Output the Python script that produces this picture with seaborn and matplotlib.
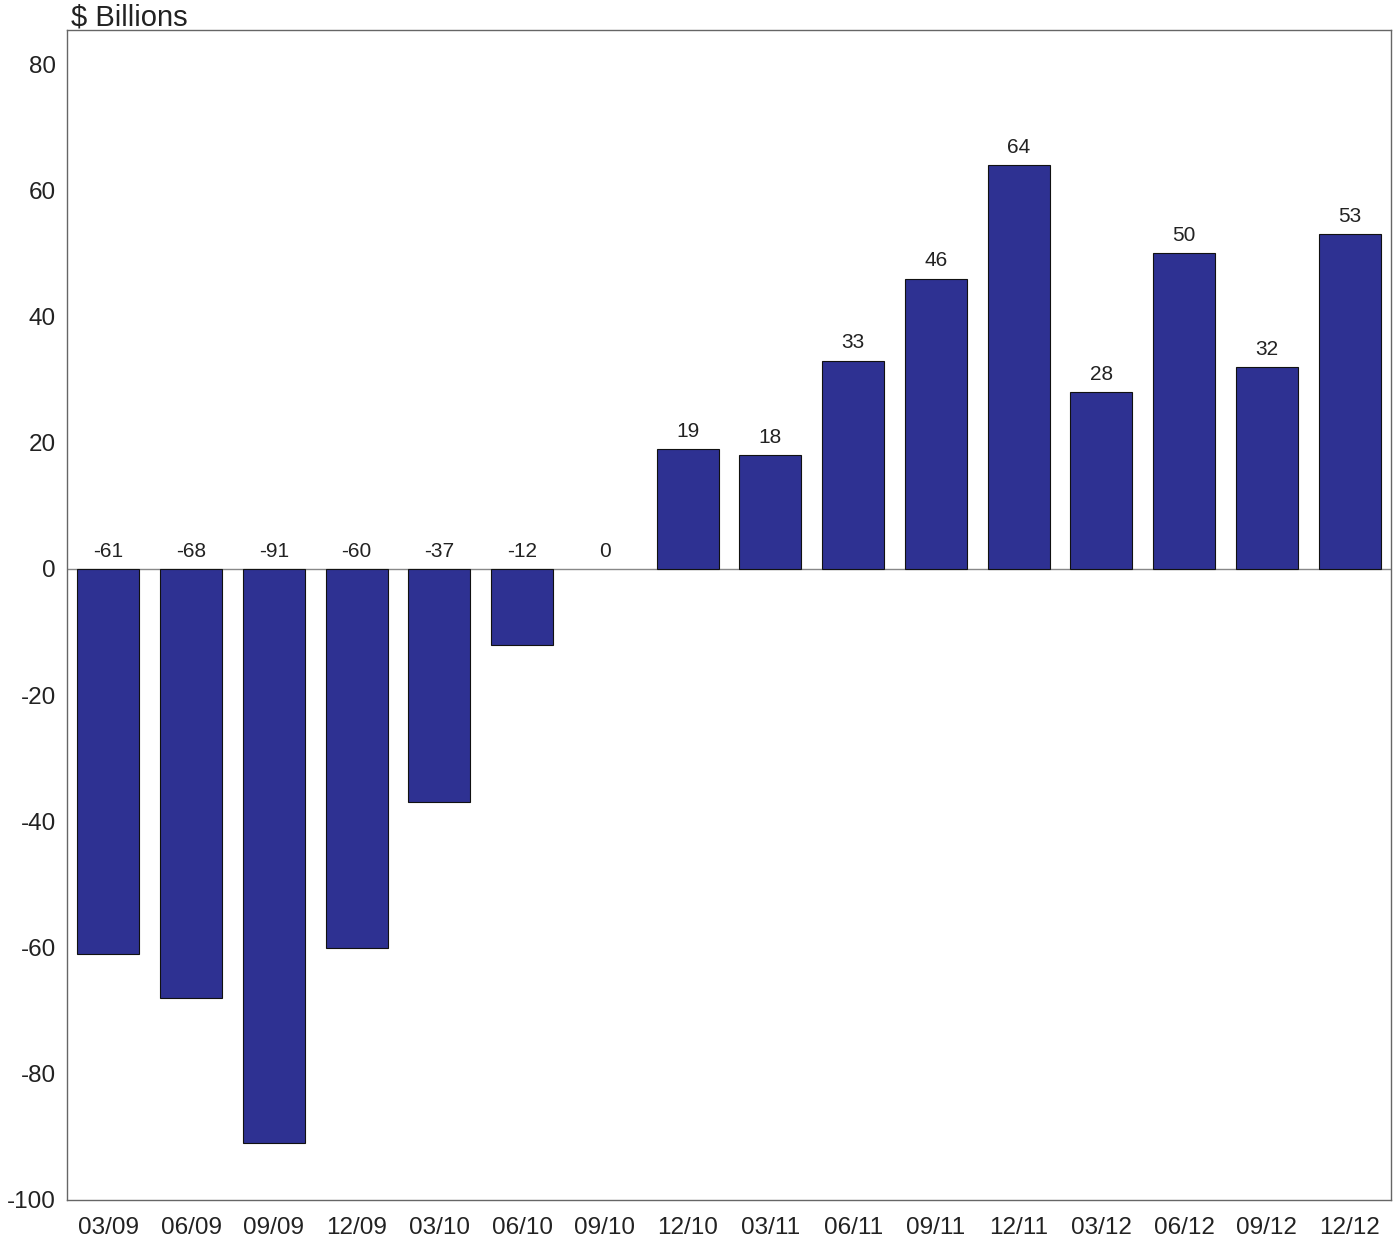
import pandas as pd
import seaborn as sns
import matplotlib.pyplot as plt

quarters = ["03/09", "06/09", "09/09", "12/09", "03/10", "06/10", "09/10", "12/10",
            "03/11", "06/11", "09/11", "12/11", "03/12", "06/12", "09/12", "12/12"]
values = [-61, -68, -91, -60, -37, -12, 0, 19, 18, 33, 46, 64, 28, 50, 32, 53]

df = pd.DataFrame({"quarter": quarters, "value": values})

sns.set_style("white")
plt.rcParams["font.family"] = ["Liberation Sans", "DejaVu Sans"]
plt.rcParams["axes.unicode_minus"] = False

fig = plt.figure(figsize=(14, 12.43), dpi=100)
ax = fig.add_axes([0.0479, 0.0346, 0.9457, 0.9413])

sns.barplot(data=df, x="quarter", y="value", color="#2E3192", saturation=1,
            width=0.75, edgecolor="#111111", linewidth=0.8, ax=ax)
# zero-height bar shows no outline in the original
for p in ax.patches:
    if p.get_height() == 0:
        p.set_linewidth(0)

ax.axhline(0, color="#888888", linewidth=1, zorder=0)
ax.set_xlim(-0.5, len(quarters) - 0.5)
ax.set_ylim(-100, 85.4)
ax.set_yticks(range(-100, 81, 20))
ax.set_xlabel("")
ax.set_ylabel("")
ax.tick_params(axis="both", length=0, labelsize=17.5, colors="#222222")
ax.tick_params(axis="x", pad=12)
ax.tick_params(axis="y", pad=8)
for lbl in ax.get_yticklabels():
    lbl.set_va("center_baseline")

for spine in ax.spines.values():
    spine.set_color("#666666")
    spine.set_linewidth(1)

for i, v in enumerate(values):
    ax.annotate(str(v), (i, max(v, 0)), xytext=(0, 6), textcoords="offset points",
                ha="center", va="bottom", fontsize=15, color="#222222")

fig.text(0.051, 0.9745, "$ Billions", ha="left", va="bottom", fontsize=21, color="#222222")

fig.savefig("out.png", dpi=100)
